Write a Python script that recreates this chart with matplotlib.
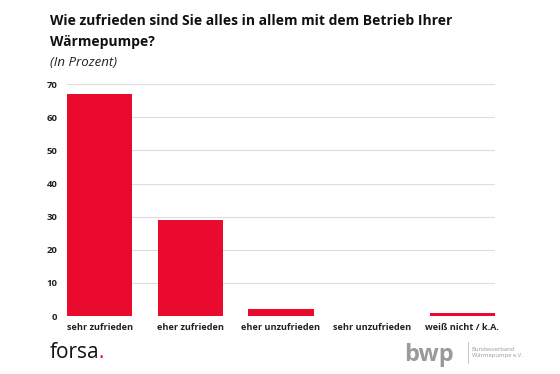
import matplotlib.pyplot as plt

# Daten
kategorien = ['sehr zufrieden', 'eher zufrieden', 'eher unzufrieden',
              'sehr unzufrieden', 'weiß nicht / k.A.']
werte = [67, 29, 2, 0, 1]
yticks = [0, 10, 20, 30, 40, 50, 60, 70]

rot = '#ea0a2e'

plt.rcParams['font.family'] = ['Open Sans', 'DejaVu Sans']

fig = plt.figure(figsize=(5.6, 3.74), dpi=100)
ax = fig.add_axes([0.1196, 0.155, 0.7644, 0.62])

x = range(len(kategorien))
ax.bar(x, werte, width=0.72, color=rot, zorder=3)
ax.set_xlim(-0.36, len(kategorien) - 1 + 0.36)
ax.set_ylim(0, 70)
ax.set_yticks(yticks)
ax.set_xticks(list(x))
ax.set_xticklabels(kategorien, fontsize=6.6, fontweight='bold', color='#222222')
for lbl in ax.get_yticklabels():
    lbl.set_fontsize(6.8)
    lbl.set_fontweight('bold')
    lbl.set_color('#222222')
ax.grid(axis='y', color='#dddddd', linewidth=0.8, zorder=0)
for s in ax.spines.values():
    s.set_visible(False)
ax.tick_params(length=0, pad=7)
ax.tick_params(axis='x', pad=5)

# Titel
fig.text(0.089, 0.945, 'Wie zufrieden sind Sie alles in allem mit dem Betrieb Ihrer',
         fontsize=10, fontweight='bold', color='#111111', va='center')
fig.text(0.089, 0.888, 'Wärmepumpe?', fontsize=10, fontweight='bold',
         color='#111111', va='center')
fig.text(0.089, 0.833, '(In Prozent)', fontsize=9.5, style='italic',
         color='#222222', va='center')

# Logos (als Text)
fig.text(0.089, 0.058, 'forsa', fontsize=15, color='#111111', va='center')
fig.text(0.175, 0.058, '.', fontsize=15, color=rot, va='center')
fig.text(0.722, 0.052, 'bwp', fontsize=17, fontweight='bold', color='#9a9a9a',
         va='center')
fig.add_artist(plt.Line2D([0.835, 0.835], [0.03, 0.085], color='#bbbbbb', lw=0.6))
fig.text(0.842, 0.058, 'Bundesverband\nWärmepumpe e.V.', fontsize=4.2,
         color='#999999', va='center', linespacing=1.3)

fig.savefig('out.png', dpi=100)
